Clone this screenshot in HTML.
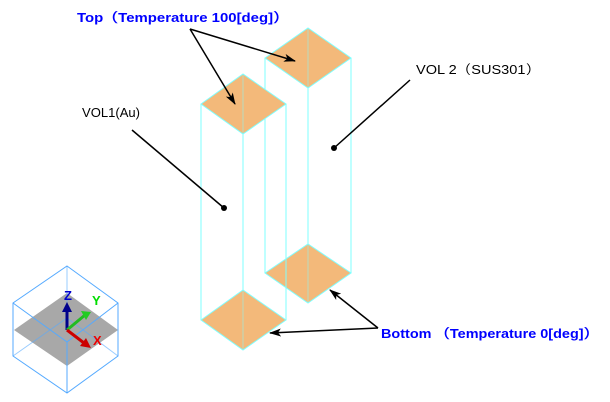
<!DOCTYPE html>
<html><head><meta charset="utf-8"><style>
html,body{margin:0;padding:0;background:#fff;width:610px;height:402px;overflow:hidden}
svg{display:block}
text{font-family:"Liberation Sans","IPAGothic","Noto Sans CJK JP",sans-serif;font-size:13px}
</style></head><body>
<svg width="610" height="402" viewBox="0 0 610 402" xmlns="http://www.w3.org/2000/svg">
<defs>
<marker id="ah" markerWidth="12" markerHeight="8" refX="11" refY="4" orient="auto" markerUnits="userSpaceOnUse">
<path d="M0,0 L12,4 L0,8 L3,4 Z" fill="#000"/></marker>
</defs>
<g stroke="#7fffff" stroke-width="1" fill="none">
<line x1="265" y1="58" x2="265" y2="273"/>
<line x1="308" y1="88" x2="308" y2="303"/>
<line x1="351" y1="58" x2="351" y2="273"/>
</g>
<polygon points="265,58 308,28 351,58 308,88" fill="#f3b97a" stroke="#7fffff"/>
<polygon points="265,273 308,244 351,273 308,303" fill="#f3b97a" stroke="#7fffff"/>
<line x1="308" y1="28" x2="308" y2="88" stroke="#7fffff" opacity="0.5"/>
<line x1="308" y1="244" x2="308" y2="303" stroke="#7fffff" opacity="0.5"/>
<g stroke="#7fffff" stroke-width="1" fill="none">
<line x1="201" y1="104" x2="201" y2="320"/>
<line x1="243" y1="134" x2="243" y2="350"/>
<line x1="286" y1="104" x2="286" y2="320"/>
</g>
<polygon points="201,104 243,74 286,104 243,134" fill="#f3b97a" stroke="#7fffff"/>
<polygon points="201,320 243,290 286,320 243,350" fill="#f3b97a" stroke="#7fffff"/>
<line x1="243" y1="74" x2="243" y2="134" stroke="#7fffff" opacity="0.5"/>
<line x1="243" y1="290" x2="243" y2="350" stroke="#7fffff" opacity="0.5"/>
<g stroke="#000" stroke-width="1.5" fill="none">
<line x1="190" y1="29" x2="295" y2="61" marker-end="url(#ah)"/>
<line x1="190" y1="29" x2="235" y2="104" marker-end="url(#ah)"/>
<line x1="378" y1="328" x2="270" y2="333" marker-end="url(#ah)"/>
<line x1="378" y1="328" x2="330" y2="290" marker-end="url(#ah)"/>
<line x1="132" y1="130" x2="224" y2="208"/>
<line x1="410" y1="80" x2="334" y2="148"/>
</g>
<circle cx="224" cy="208" r="3" fill="#000"/>
<circle cx="334" cy="148" r="3" fill="#000"/>
<text x="77" y="22" fill="#0000ff" font-weight="bold" textLength="211" lengthAdjust="spacingAndGlyphs">Top（Temperature 100[deg]）</text>
<text x="82" y="117" fill="#000" textLength="58" lengthAdjust="spacingAndGlyphs">VOL1(Au)</text>
<text x="416" y="74" fill="#000" textLength="124" lengthAdjust="spacingAndGlyphs">VOL 2（SUS301）</text>
<text x="381" y="338" fill="#0000ff" font-weight="bold" textLength="217" lengthAdjust="spacingAndGlyphs">Bottom （Temperature 0[deg]）</text>
<polygon points="14,330 67,293 118,330 67,366" fill="#a8a8a8"/>
<g stroke="#55aaff" stroke-width="1" fill="none">
<polygon points="67,266 118,303 118,356 67,393 13,356 13,303"/>
<polyline points="13,303 67,342 118,303"/>
<line x1="67" y1="342" x2="67" y2="393"/>
<line x1="67" y1="266" x2="67" y2="318" opacity="0.6"/>
<polyline points="13,356 67,318 118,356" opacity="0.6"/>
</g>
<line x1="67" y1="330" x2="67" y2="310" stroke="#00008b" stroke-width="3"/>
<polygon points="62,312 67,302 72,312" fill="#00008b"/>
<line x1="67" y1="330" x2="85" y2="315" stroke="#22bb22" stroke-width="3"/>
<polygon points="81,311 91,312 86,320" fill="#22cc22"/>
<line x1="67" y1="330" x2="84" y2="343" stroke="#cc0000" stroke-width="3"/>
<polygon points="80,346 91,348 86,338" fill="#cc0000"/>
<text x="64" y="300" fill="#0000cc" font-weight="bold" font-size="12">Z</text>
<text x="92" y="305" fill="#00dd00" font-weight="bold" font-size="12">Y</text>
<text x="93" y="345" fill="#ee0000" font-weight="bold" font-size="12">X</text>
</svg>
</body></html>
